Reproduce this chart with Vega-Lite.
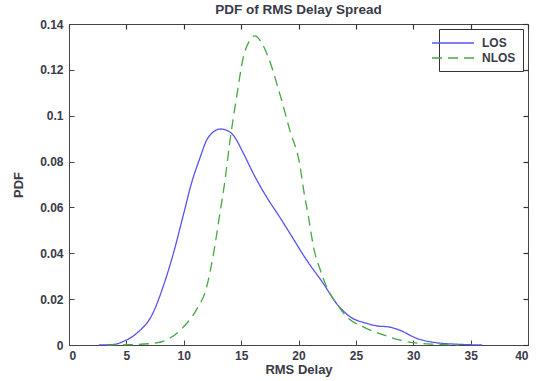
{
  "$schema": "https://vega.github.io/schema/vega-lite/v6.json",
  "width": 459,
  "height": 321,
  "autosize": {"type": "none"},
  "padding": {"left": 69, "top": 24, "right": 11, "bottom": 36},
  "background": "white",
  "title": {"text": "PDF of RMS Delay Spread", "fontSize": 13.5, "font": "Liberation Sans", "fontWeight": "bold", "color": "#3a3a48", "offset": 2},
  "config": {
    "view": {"stroke": "#444", "strokeWidth": 1},
    "axis": {"labelFont": "Liberation Sans", "labelFontSize": 12, "labelFontWeight": "bold", "labelColor": "#3a3a48", "titleFont": "Liberation Sans", "titleFontSize": 13, "titleFontWeight": "bold", "titleColor": "#3a3a48", "domainColor": "#444", "tickColor": "#444", "grid": false}
  },
  "data": {"values": [
    {"delay": 2.6, "pdf": 0, "type": "LOS"},
    {"delay": 4.0, "pdf": 0.0003, "type": "LOS"},
    {"delay": 4.7, "pdf": 0.0015, "type": "LOS"},
    {"delay": 5.9, "pdf": 0.0051, "type": "LOS"},
    {"delay": 7.3, "pdf": 0.0138, "type": "LOS"},
    {"delay": 8.2, "pdf": 0.0254, "type": "LOS"},
    {"delay": 9.1, "pdf": 0.04, "type": "LOS"},
    {"delay": 10.0, "pdf": 0.0574, "type": "LOS"},
    {"delay": 10.7, "pdf": 0.071, "type": "LOS"},
    {"delay": 11.4, "pdf": 0.0814, "type": "LOS"},
    {"delay": 12.0, "pdf": 0.0894, "type": "LOS"},
    {"delay": 12.6, "pdf": 0.093, "type": "LOS"},
    {"delay": 13.2, "pdf": 0.0942, "type": "LOS"},
    {"delay": 13.8, "pdf": 0.0935, "type": "LOS"},
    {"delay": 14.3, "pdf": 0.0916, "type": "LOS"},
    {"delay": 15.2, "pdf": 0.0836, "type": "LOS"},
    {"delay": 16.05, "pdf": 0.0749, "type": "LOS"},
    {"delay": 17.2, "pdf": 0.0647, "type": "LOS"},
    {"delay": 18.4, "pdf": 0.0555, "type": "LOS"},
    {"delay": 19.25, "pdf": 0.0487, "type": "LOS"},
    {"delay": 20.7, "pdf": 0.0371, "type": "LOS"},
    {"delay": 22.15, "pdf": 0.0269, "type": "LOS"},
    {"delay": 23.3, "pdf": 0.0182, "type": "LOS"},
    {"delay": 24.5, "pdf": 0.0123, "type": "LOS"},
    {"delay": 25.9, "pdf": 0.0095, "type": "LOS"},
    {"delay": 27.0, "pdf": 0.0082, "type": "LOS"},
    {"delay": 27.7, "pdf": 0.008, "type": "LOS"},
    {"delay": 28.8, "pdf": 0.0065, "type": "LOS"},
    {"delay": 30.3, "pdf": 0.0029, "type": "LOS"},
    {"delay": 32.0, "pdf": 0.001, "type": "LOS"},
    {"delay": 34.0, "pdf": 0.0003, "type": "LOS"},
    {"delay": 36.0, "pdf": 0, "type": "LOS"},
    {"delay": 3.3, "pdf": 0, "type": "NLOS"},
    {"delay": 5.0, "pdf": 0.0001, "type": "NLOS"},
    {"delay": 7.3, "pdf": 0.0007, "type": "NLOS"},
    {"delay": 8.5, "pdf": 0.0022, "type": "NLOS"},
    {"delay": 10.0, "pdf": 0.008, "type": "NLOS"},
    {"delay": 11.1, "pdf": 0.0153, "type": "NLOS"},
    {"delay": 12.0, "pdf": 0.0254, "type": "NLOS"},
    {"delay": 12.6, "pdf": 0.04, "type": "NLOS"},
    {"delay": 13.15, "pdf": 0.0574, "type": "NLOS"},
    {"delay": 13.6, "pdf": 0.072, "type": "NLOS"},
    {"delay": 14.0, "pdf": 0.088, "type": "NLOS"},
    {"delay": 14.6, "pdf": 0.108, "type": "NLOS"},
    {"delay": 15.2, "pdf": 0.1257, "type": "NLOS"},
    {"delay": 15.7, "pdf": 0.1325, "type": "NLOS"},
    {"delay": 16.2, "pdf": 0.1348, "type": "NLOS"},
    {"delay": 16.7, "pdf": 0.1325, "type": "NLOS"},
    {"delay": 17.35, "pdf": 0.1257, "type": "NLOS"},
    {"delay": 18.4, "pdf": 0.109, "type": "NLOS"},
    {"delay": 19.25, "pdf": 0.0935, "type": "NLOS"},
    {"delay": 20.1, "pdf": 0.079, "type": "NLOS"},
    {"delay": 20.5, "pdf": 0.066, "type": "NLOS"},
    {"delay": 20.9, "pdf": 0.055, "type": "NLOS"},
    {"delay": 21.3, "pdf": 0.0429, "type": "NLOS"},
    {"delay": 21.9, "pdf": 0.0327, "type": "NLOS"},
    {"delay": 22.45, "pdf": 0.0254, "type": "NLOS"},
    {"delay": 23.3, "pdf": 0.0182, "type": "NLOS"},
    {"delay": 24.2, "pdf": 0.0123, "type": "NLOS"},
    {"delay": 25.6, "pdf": 0.008, "type": "NLOS"},
    {"delay": 27.4, "pdf": 0.0044, "type": "NLOS"},
    {"delay": 28.8, "pdf": 0.0022, "type": "NLOS"},
    {"delay": 30.0, "pdf": 0.001, "type": "NLOS"},
    {"delay": 32.0, "pdf": 0.0003, "type": "NLOS"},
    {"delay": 34.0, "pdf": 0, "type": "NLOS"}
  ]},
  "layer": [
    {
      "mark": {"type": "line", "interpolate": "monotone", "strokeWidth": 1.3},
      "encoding": {
        "x": {"field": "delay", "type": "quantitative", "scale": {"domain": [0, 40], "nice": false},
              "axis": {"orient": "bottom", "title": "RMS Delay", "values": [0, 5, 10, 15, 20, 25, 30, 35, 40], "tickSize": -5, "labelPadding": 10, "titlePadding": 2}},
        "y": {"field": "pdf", "type": "quantitative", "scale": {"domain": [0, 0.14], "nice": false},
              "axis": {"orient": "left", "title": "PDF", "values": [0, 0.02, 0.04, 0.06, 0.08, 0.1, 0.12, 0.14], "format": ".2~f", "tickSize": -5, "labelPadding": 11, "titlePadding": 14}},
        "color": {"field": "type", "type": "nominal", "scale": {"domain": ["LOS", "NLOS"], "range": ["#5555f0", "#44a844"]},
                  "legend": {"title": null, "orient": "top-right", "offset": 5, "symbolType": "M-3.5,0H3.5", "symbolSize": 144, "symbolStrokeWidth": 1.5, "labelFont": "Liberation Sans", "labelFontSize": 12, "labelFontWeight": "bold", "labelColor": "#3a3a48", "labelOffset": 22, "strokeColor": "#333", "fillColor": "white", "padding": 7, "rowPadding": 2}},
        "strokeDash": {"field": "type", "type": "nominal", "scale": {"domain": ["LOS", "NLOS"], "range": [[1, 0], [10, 6]]},
                  "legend": {"title": null, "orient": "top-right", "offset": 5, "symbolType": "M-3.5,0H3.5", "symbolSize": 144, "symbolStrokeWidth": 1.5, "labelFont": "Liberation Sans", "labelFontSize": 12, "labelFontWeight": "bold", "labelColor": "#3a3a48", "labelOffset": 22, "strokeColor": "#333", "fillColor": "white", "padding": 7, "rowPadding": 2}}
      }
    },
    {
      "mark": {"type": "line", "strokeOpacity": 0},
      "encoding": {
        "x": {"field": "delay", "type": "quantitative", "axis": {"orient": "top", "title": null, "labels": false, "domain": false, "values": [0, 5, 10, 15, 20, 25, 30, 35, 40], "tickSize": -5, "tickWidth": 1.2, "tickColor": "#333"}},
        "y": {"field": "pdf", "type": "quantitative", "axis": {"orient": "right", "title": null, "labels": false, "domain": false, "values": [0, 0.02, 0.04, 0.06, 0.08, 0.1, 0.12, 0.14], "tickSize": -5, "tickWidth": 1.2, "tickColor": "#333"}},
        "detail": {"field": "type"}
      }
    }
  ],
  "resolve": {"axis": {"x": "independent", "y": "independent"}}
}
